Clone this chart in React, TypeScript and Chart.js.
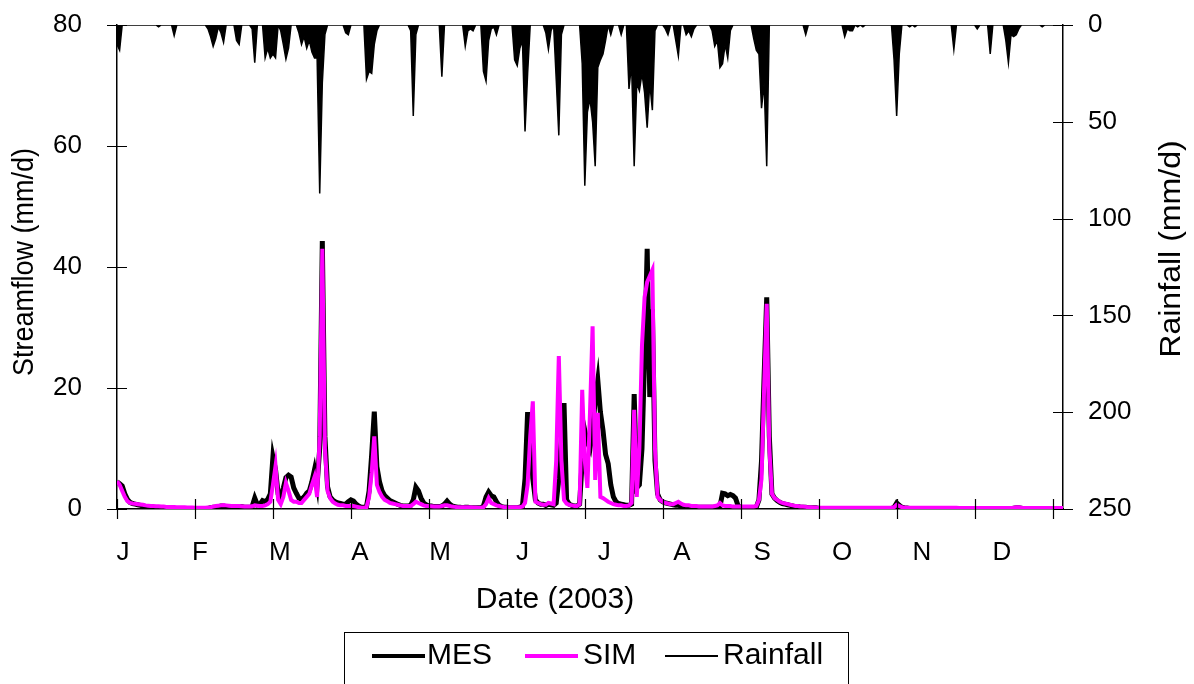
import React, { useEffect, useRef } from 'react';
import { Chart, registerables } from 'chart.js';

Chart.register(...registerables);

const FONT = '"Liberation Sans", Arial, sans-serif';

// x axis (day of year 2003)
const MONTH_LABELS = ['J', 'F', 'M', 'A', 'M', 'J', 'J', 'A', 'S', 'O', 'N', 'D'];
const LABEL_DAYS = [2.3, 31.9, 62.7, 93.5, 124.3, 156, 187.5, 217.4, 248.2, 279, 309.7, 340.5];
const TICK_DAYS = [0, 30, 60, 90, 120, 150, 180, 210, 240, 270, 300, 330, 360];
const DAYS = Array.from({ length: 365 }, (_, i) => i);

const X_TITLE = 'Date (2003)';
const Y_TITLE = 'Streamflow (mm/d)';
const Y2_TITLE = 'Rainfall (mm/d)';

// Measured streamflow (mm/d)
const MES = [
  // Jan
  4.5, 4.2, 3.8, 2.5, 1.6, 1.1, 0.9, 0.8, 0.7, 0.6,
  0.5, 0.4, 0.3, 0.2, 0.1, 0.1, 0.05, 0.05, 0.05, 0.05,
  0.05, 0.05, 0.1, 0.1, 0.05, 0.05, 0.05, 0.05, 0.05, 0.05, 0.05,
  // Feb
  0.05, 0.05, 0.05, 0.05, 0.1, 0.2, 0.3, 0.3, 0.4, 0.5,
  0.5, 0.4, 0.3, 0.3, 0.3, 0.3, 0.4, 0.4, 0.3, 0.3,
  0.3, 0.4, 1.8, 0.7, 0.8, 1.4, 1.2, 1.6,
  // Mar
  2.5, 8.6, 6.5, 2.5, 2.0, 3.5, 5.2, 5.6, 5.3, 3.5,
  2.6, 1.8, 1.6, 2.0, 2.6, 3.0, 4.5, 6.5, 4.0, 10,
  44.3, 12, 3.7, 2.0, 1.5, 1.2, 1.0, 0.9, 0.8, 0.8, 1.2,
  // Apr
  1.5, 1.3, 0.8, 0.5, 0.3, 0.3, 0.4, 3.0, 9.0, 16.1,
  7.0, 4.5, 3.0, 2.2, 1.8, 1.4, 1.2, 1.0, 0.8, 0.6,
  0.5, 0.5, 0.5, 0.6, 1.5, 3.6, 3.0, 1.8, 1.0, 0.7,
  // May
  0.5, 0.5, 0.4, 0.4, 0.4, 0.5, 0.8, 1.3, 0.8, 0.5,
  0.4, 0.3, 0.3, 0.2, 0.3, 0.3, 0.2, 0.2, 0.2, 0.2,
  0.2, 0.5, 2.0, 2.8, 2.2, 2.0, 1.2, 0.6, 0.4, 0.3, 0.3,
  // Jun
  0.2, 0.2, 0.2, 0.2, 0.3, 0.5, 5.0, 16.0, 12, 5.0,
  1.5, 1.0, 0.8, 0.8, 0.6, 0.8, 0.7, 0.6, 1.0, 5.0,
  12, 17.5, 1.5, 0.8, 0.6, 0.5, 0.5, 0.8, 8.0, 13,
  // Jul
  11, 10, 13, 18, 21.3, 16, 13, 9.0, 7.5, 4.0,
  2.0, 1.2, 0.9, 0.8, 0.7, 0.6, 0.6, 0.8, 19, 3.5,
  4.0, 10, 25, 43, 18.5, 33, 8.0, 2.5, 1.5, 1.2, 1.0,
  // Aug
  0.9, 0.8, 0.7, 0.6, 0.6, 0.5, 0.5, 0.4, 0.4, 0.4,
  0.3, 0.3, 0.3, 0.3, 0.3, 0.3, 0.3, 0.3, 0.3, 0.3,
  0.4, 2.6, 2.5, 2.2, 2.4, 2.2, 1.8, 0.5, 0.3, 0.2, 0.2,
  // Sep
  0.2, 0.2, 0.2, 0.3, 1.5, 8.0, 22, 35, 12, 2.5,
  1.8, 1.4, 1.1, 0.9, 0.8, 0.7, 0.6, 0.5, 0.4, 0.4,
  0.3, 0.3, 0.3, 0.2, 0.2, 0.2, 0.2, 0.1, 0.1, 0.1,
  // Oct
  0.1, 0.1, 0.1, 0.1, 0.1, 0.1, 0.1, 0.1, 0.1, 0.1,
  0.1, 0.1, 0.1, 0.1, 0.1, 0.1, 0.1, 0.1, 0.1, 0.1,
  0.1, 0.1, 0.1, 0.1, 0.1, 0.1, 0.3, 1.0, 0.6, 0.3, 0.2,
  // Nov
  0.15, 0.1, 0.1, 0.1, 0.1, 0.1, 0.1, 0.1, 0.1, 0.1,
  0.1, 0.1, 0.1, 0.1, 0.1, 0.1, 0.1, 0.1, 0.1, 0.1,
  0.05, 0.05, 0.05, 0.05, 0.05, 0.05, 0.05, 0.05, 0.05, 0.05,
  // Dec
  0.05, 0.05, 0.05, 0.05, 0.05, 0.05, 0.05, 0.05, 0.05, 0.05,
  0.05, 0.15, 0.2, 0.2, 0.15, 0.05, 0.05, 0.05, 0.05, 0.05,
  0.05, 0.05, 0.05, 0.05, 0.05, 0.05, 0.05, 0.05, 0.05, 0.05, 0.05,
];

// Simulated streamflow (mm/d)
const SIM = [
  // Jan
  4.6, 4.0, 3.0, 2.0, 1.3, 1.0, 0.9, 0.85, 0.8, 0.75,
  0.7, 0.6, 0.55, 0.5, 0.5, 0.45, 0.45, 0.4, 0.4, 0.35,
  0.35, 0.35, 0.35, 0.3, 0.3, 0.3, 0.3, 0.25, 0.25, 0.25, 0.2,
  // Feb
  0.2, 0.2, 0.2, 0.2, 0.25, 0.3, 0.4, 0.5, 0.55, 0.6,
  0.65, 0.6, 0.55, 0.5, 0.5, 0.5, 0.5, 0.45, 0.4, 0.4,
  0.4, 0.45, 0.6, 0.55, 0.5, 0.5, 0.6, 0.8,
  // Mar
  1.2, 4.0, 7.1, 1.5, 0.8, 2.0, 4.3, 3.0, 1.5, 1.2,
  1.2, 1.0, 1.0, 1.5, 2.0, 2.5, 4.0, 5.3, 2.0, 12,
  43, 10, 3.0, 1.8, 1.2, 0.9, 0.7, 0.6, 0.6, 0.5, 0.5,
  // Apr
  0.5, 0.5, 0.4, 0.3, 0.2, 0.2, 0.3, 2.0, 6.0, 12,
  4.0, 2.8, 2.0, 1.5, 1.3, 1.0, 0.9, 0.8, 0.7, 0.6,
  0.5, 0.5, 0.5, 0.5, 0.8, 1.2, 1.0, 0.8, 0.6, 0.5,
  // May
  0.5, 0.45, 0.4, 0.4, 0.4, 0.5, 0.6, 0.6, 0.5, 0.4,
  0.35, 0.3, 0.3, 0.3, 0.3, 0.3, 0.3, 0.25, 0.25, 0.2,
  0.2, 0.3, 0.8, 1.8, 1.0, 0.8, 0.6, 0.5, 0.4, 0.3, 0.3,
  // Jun
  0.3, 0.3, 0.3, 0.3, 0.3, 0.4, 1.0, 4.0, 12, 17.8,
  1.2, 1.0, 0.8, 0.7, 0.7, 1.0, 0.9, 0.8, 8.0, 25.3,
  8.0, 1.5, 0.9, 0.7, 0.6, 0.5, 0.5, 0.8, 19.7, 8.0,
  // Jul
  3.5, 16, 30.2, 4.8, 15.9, 2.0, 1.8, 1.5, 1.2, 1.0,
  0.8, 0.7, 0.6, 0.6, 0.5, 0.5, 0.6, 1.0, 16.4, 2.0,
  10, 27, 35, 37.5, 38.5, 39.5, 10, 2.0, 1.5, 1.2, 1.0,
  // Aug
  0.9, 0.8, 0.8, 1.0, 1.2, 0.9, 0.7, 0.6, 0.6, 0.5,
  0.5, 0.5, 0.4, 0.4, 0.4, 0.4, 0.4, 0.4, 0.5, 0.6,
  1.0, 0.6, 0.5, 0.5, 0.5, 0.4, 0.4, 0.4, 0.4, 0.4, 0.4,
  // Sep
  0.4, 0.4, 0.4, 0.5, 1.5, 5.0, 20, 33.9, 10, 2.5,
  1.8, 1.5, 1.2, 1.0, 0.9, 0.8, 0.7, 0.6, 0.5, 0.5,
  0.4, 0.4, 0.35, 0.3, 0.3, 0.25, 0.25, 0.2, 0.2, 0.2,
  // Oct
  0.2, 0.2, 0.2, 0.2, 0.2, 0.2, 0.2, 0.2, 0.2, 0.2,
  0.2, 0.2, 0.2, 0.2, 0.2, 0.2, 0.2, 0.2, 0.2, 0.2,
  0.2, 0.2, 0.2, 0.2, 0.2, 0.2, 0.3, 0.7, 0.5, 0.3, 0.25,
  // Nov
  0.2, 0.2, 0.2, 0.2, 0.2, 0.2, 0.2, 0.2, 0.2, 0.2,
  0.2, 0.2, 0.2, 0.2, 0.2, 0.2, 0.2, 0.2, 0.2, 0.2,
  0.15, 0.15, 0.15, 0.15, 0.15, 0.15, 0.15, 0.15, 0.15, 0.15,
  // Dec
  0.15, 0.15, 0.15, 0.15, 0.15, 0.15, 0.15, 0.15, 0.15, 0.15,
  0.15, 0.2, 0.3, 0.3, 0.2, 0.15, 0.15, 0.15, 0.15, 0.15,
  0.15, 0.15, 0.15, 0.15, 0.15, 0.15, 0.15, 0.15, 0.15, 0.15, 0.15,
];

// Daily rainfall (mm/d)
const RAIN = [
  // Jan
  10, 13, 0, 0, 0, 0, 0, 0, 0, 0,
  0, 0, 0, 0, 0, 0, 1, 0, 0, 0,
  0, 0, 5.5, 0, 0, 0, 0, 0, 0, 0, 0,
  // Feb
  0, 0, 0, 0, 2, 6, 11, 7, 1, 4,
  9, 0, 0, 0, 0, 8, 10, 0, 0, 0,
  0, 2, 19.5, 0, 0, 0, 17, 12,
  // Mar
  17, 15, 17, 0, 3, 10, 17.6, 12, 0, 0,
  0, 4, 10, 6, 12, 8, 14, 17, 17, 87,
  30, 5, 0, 0, 0, 0, 0, 0, 0, 4, 5,
  // Apr
  0, 0, 0, 0, 0, 0, 28, 24, 25, 10,
  3, 0, 0, 0, 0, 0, 0, 0, 0, 0,
  0, 0, 0, 3, 47, 5, 0, 0, 0, 0,
  // May
  0, 0, 0, 0, 0, 26.7, 0, 0, 0, 0,
  0, 0, 0, 0, 11, 3, 2, 3, 0, 0,
  0, 24, 29, 8, 2, 1, 5, 0, 0, 0, 0,
  // Jun
  0, 0, 18, 21, 12, 8, 55, 25, 0, 0,
  0, 0, 0, 0, 4, 12.6, 3, 0, 28, 57,
  5, 0, 0, 0, 0, 0, 0, 0, 20, 83,
  // Jul
  45, 38, 50, 73, 22, 18, 15, 8, 0, 5,
  0, 0, 0, 5, 0, 0, 33, 20, 73, 30,
  34, 25, 35, 53, 30, 44, 3, 0, 0, 0, 2,
  // Aug
  5, 0, 0, 8, 16, 0, 0, 5, 3, 6,
  2, 0, 0, 0, 0, 0, 0, 3, 11, 8,
  22, 20, 10, 17, 3, 0, 0, 0, 0, 0, 0,
  // Sep
  0, 0, 7, 13, 15, 43, 30, 73, 0, 0,
  0, 0, 0, 0, 0, 0, 0, 0, 0, 0,
  0, 0, 5, 0, 0, 0, 0, 0, 0, 0,
  // Oct
  0, 0, 0, 0, 0, 0, 0, 6, 2, 3,
  3, 0, 1, 0, 1, 0, 0, 0, 0, 0,
  0, 0, 0, 0, 0, 0, 18, 47, 15, 0, 0,
  // Nov
  0, 1, 0, 1, 0, 0, 0, 0, 0, 0,
  0, 0, 0, 0, 0, 0, 0, 0, 12.6, 0,
  0, 0, 0, 0, 0, 0, 0, 2, 0, 0,
  // Dec
  0, 0, 15, 0, 0, 0, 0, 0, 8, 19.5,
  5, 6, 5, 2, 0, 0, 0, 0, 0, 0,
  0, 0, 1, 0, 0, 0, 0, 0, 0, 0, 0,
];

const decorations = {
  id: 'decorations',
  afterDraw(chart: any) {
    const { ctx, chartArea, scales } = chart;
    const L = 10;
    ctx.save();
    ctx.strokeStyle = '#000';
    ctx.lineWidth = 1.2;
    ctx.beginPath();
    for (const d of TICK_DAYS) {
      const px = Math.round(scales.x.getPixelForValue(d)) + 0.5;
      ctx.moveTo(px, chartArea.bottom - L);
      ctx.lineTo(px, chartArea.bottom + L);
    }
    for (const t of scales.y.ticks) {
      const py = Math.round(scales.y.getPixelForValue(t.value)) + 0.5;
      ctx.moveTo(chartArea.left - L, py);
      ctx.lineTo(chartArea.left + L, py);
    }
    for (const t of scales.y2.ticks) {
      const py = Math.round(scales.y2.getPixelForValue(t.value)) + 0.5;
      ctx.moveTo(chartArea.right - L, py);
      ctx.lineTo(chartArea.right + L, py);
    }
    ctx.stroke();

    ctx.fillStyle = '#000';
    ctx.font = `30px ${FONT}`;
    ctx.textAlign = 'center';
    ctx.textBaseline = 'middle';
    ctx.fillText(X_TITLE, 555, 600);

    ctx.save();
    ctx.translate(25, 262);
    ctx.rotate(-Math.PI / 2);
    ctx.scale(0.9, 1);
    ctx.fillText(Y_TITLE, 0, 0);
    ctx.restore();

    ctx.save();
    ctx.translate(1172, 249);
    ctx.rotate(-Math.PI / 2);
    ctx.scale(1.07, 1);
    ctx.fillText(Y2_TITLE, 0, 0);
    ctx.restore();

    ctx.restore();
  },
};

const noOverflowPadding = (s: any) => {
  s.paddingTop = 0;
  s.paddingBottom = 0;
};

export default function App() {
  const ref = useRef<HTMLCanvasElement>(null);

  useEffect(() => {
    if (!ref.current) return;
    const tickFont = { family: FONT, size: 26 };
    const chart = new Chart(ref.current, {
      type: 'line',
      data: {
        labels: DAYS,
        datasets: [
          {
            label: 'SIM',
            data: SIM,
            borderColor: '#FF00FF',
            borderWidth: 4,
            pointRadius: 0,
            tension: 0,
            yAxisID: 'y',
            order: 0,
          },
          {
            label: 'MES',
            data: MES,
            borderColor: '#000000',
            borderWidth: 5,
            pointRadius: 0,
            tension: 0,
            yAxisID: 'y',
            order: 1,
          },
          {
            label: 'Rainfall',
            data: RAIN,
            borderColor: '#000000',
            backgroundColor: '#000000',
            borderWidth: 1.5,
            pointRadius: 0,
            tension: 0,
            fill: 'origin',
            yAxisID: 'y2',
            order: 2,
          },
        ],
      },
      options: {
        responsive: false,
        animation: false,
        events: [],
        layout: { padding: { top: 25, left: 0, right: 0, bottom: 0 } },
        plugins: {
          legend: { display: false },
          tooltip: { enabled: false },
        },
        scales: {
          x: {
            type: 'linear',
            position: 'bottom',
            min: 0,
            max: 364,
            grid: { display: false, drawTicks: true, tickLength: 10 },
            border: { display: true, color: '#000', width: 1.5 },
            afterBuildTicks: (axis: any) => {
              axis.ticks = LABEL_DAYS.map((v) => ({ value: v }));
            },
            afterFit: (s: any) => {
              s.height = 175;
              s.paddingLeft = 0;
              s.paddingRight = 0;
            },
            ticks: {
              autoSkip: false,
              maxRotation: 0,
              padding: 18,
              color: '#000',
              font: tickFont,
              callback: (_v: any, i: number) => MONTH_LABELS[i],
            },
          },
          y: {
            position: 'left',
            min: 0,
            max: 80,
            grid: { display: false, drawTicks: true, tickLength: 10 },
            border: { display: true, color: '#000', width: 1.5 },
            afterFit: (s: any) => {
              s.width = 117;
              noOverflowPadding(s);
            },
            ticks: { stepSize: 20, padding: 25, color: '#000', font: tickFont },
          },
          y2: {
            position: 'right',
            min: 0,
            max: 250,
            reverse: true,
            grid: { display: false, drawTicks: true, tickLength: 10 },
            border: { display: true, color: '#000', width: 1.5 },
            afterFit: (s: any) => {
              s.width = 131;
              noOverflowPadding(s);
            },
            ticks: { stepSize: 50, padding: 15, color: '#000', font: tickFont },
          },
        },
      },
      plugins: [decorations],
    } as any);
    return () => chart.destroy();
  }, []);

  const legendText: React.CSSProperties = {
    position: 'absolute',
    top: 6,
    fontFamily: FONT,
    fontSize: 30,
    lineHeight: '30px',
    color: '#000',
    whiteSpace: 'nowrap',
  };

  return (
    <div
      style={{
        position: 'absolute',
        left: 0,
        top: 0,
        width: 1194,
        height: 684,
        overflow: 'hidden',
        background: '#fff',
      }}
    >
      <canvas ref={ref} width={1194} height={684} style={{ display: 'block' }} />
      <div
        style={{
          position: 'absolute',
          left: 344,
          top: 632,
          width: 505,
          height: 70,
          border: '1px solid #000',
          boxSizing: 'border-box',
        }}
      >
        <div style={{ position: 'absolute', left: 27, top: 21, width: 53, height: 4, background: '#000' }} />
        <span style={{ ...legendText, left: 82 }}>MES</span>
        <div style={{ position: 'absolute', left: 180, top: 21, width: 53, height: 4, background: '#FF00FF' }} />
        <span style={{ ...legendText, left: 238 }}>SIM</span>
        <div style={{ position: 'absolute', left: 320, top: 22, width: 53, height: 2, background: '#000' }} />
        <span style={{ ...legendText, left: 378 }}>Rainfall</span>
      </div>
    </div>
  );
}
